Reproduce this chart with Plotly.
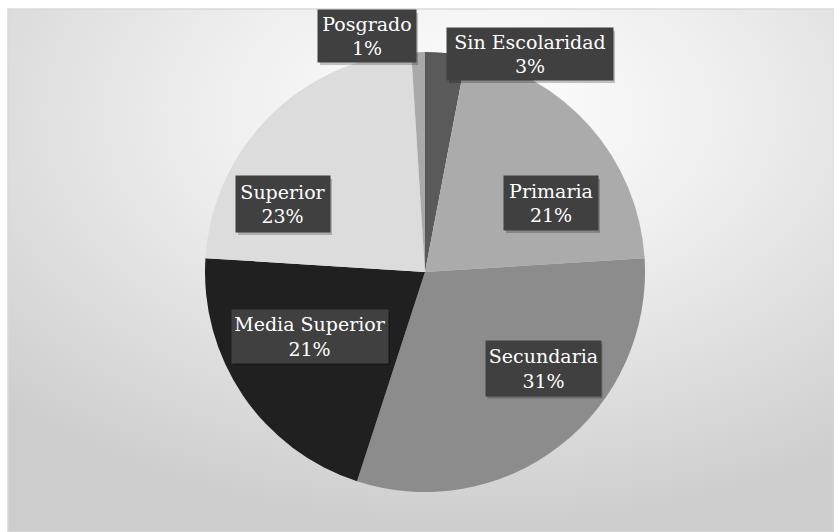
import base64
import plotly.graph_objects as go

# Education level distribution
categories = ["Sin Escolaridad", "Primaria", "Secundaria", "Media Superior", "Superior", "Posgrado"]
shares = [3, 21, 31, 21, 23, 1]

slice_colors = ["#5a5a5a", "#ababab", "#8c8c8c", "#202020", "#dcdcdc", "#a9a9a9"]

W, H = 834, 532

# label box centres (px from top-left) and box sizes
label_pos = [(530, 54), (551, 203), (543, 368), (310, 336), (283, 204), (367, 36)]
label_box = [(166, 52), (94, 54), (115, 55), (156, 53), (94, 56), (98, 52)]

# pie placement in px
cx, cy, r = 425, 272, 220

SERIF = "DejaVu Serif"

fig = go.Figure()

fig.add_trace(go.Pie(
    labels=categories,
    values=shares,
    sort=False,
    direction="clockwise",
    rotation=0,
    marker=dict(colors=slice_colors, line=dict(width=0)),
    textinfo="none",
    hoverinfo="label+percent",
    showlegend=False,
    domain=dict(x=[(cx - r) / W, (cx + r) / W],
                y=[(H - cy - r) / H, (H - cy + r) / H]),
))

# soft gradient background of the chart area
fx0, fy0 = 8, 9
fw, fh = W - fx0, H - fy0
svg = (
    f"<svg xmlns='http://www.w3.org/2000/svg' width='{fw}' height='{fh}' preserveAspectRatio='none'>"
    "<defs><radialGradient id='g' cx='0.56' cy='0.2' r='0.8'>"
    "<stop offset='0' stop-color='#ffffff'/>"
    "<stop offset='0.4' stop-color='#eeeeee'/>"
    "<stop offset='1' stop-color='#cdcdcd'/>"
    "</radialGradient></defs>"
    f"<rect width='{fw}' height='{fh}' fill='url(#g)'/></svg>"
)
src = "data:image/svg+xml;base64," + base64.b64encode(svg.encode()).decode()
fig.add_layout_image(dict(
    source=src, xref="paper", yref="paper",
    x=fx0 / W, y=1 - fy0 / H, sizex=fw / W, sizey=fh / H,
    xanchor="left", yanchor="top", sizing="stretch", layer="below",
))

fig.add_shape(type="rect", xref="paper", yref="paper",
              x0=fx0 / W, x1=1, y0=0, y1=1 - fy0 / H,
              line=dict(color="#d9d9d9", width=1.5), layer="below")

total = sum(shares)
for name, val, (px, py), (bw, bh) in zip(categories, shares, label_pos, label_box):
    pct = round(100 * val / total)
    # drop shadow behind each label box
    sx, sy = px + 2, py + 3
    fig.add_shape(type="rect", xref="paper", yref="paper",
                  x0=(sx - bw / 2) / W, x1=(sx + bw / 2) / W,
                  y0=1 - (sy + bh / 2) / H, y1=1 - (sy - bh / 2) / H,
                  fillcolor="rgba(0,0,0,0.22)", line=dict(width=0), layer="above")
    fig.add_annotation(text=f"{name}<br>{pct}%",
                       xref="paper", yref="paper", x=px / W, y=1 - py / H,
                       xanchor="center", yanchor="middle", showarrow=False,
                       width=bw, height=bh, borderpad=0, align="center",
                       bgcolor="#404040",
                       font=dict(family=SERIF, size=19, color="#ffffff"))

fig.update_layout(
    width=W, height=H,
    margin=dict(l=0, r=0, t=0, b=0),
    paper_bgcolor="#ffffff",
    plot_bgcolor="rgba(0,0,0,0)",
)

fig.write_html("out.html")
